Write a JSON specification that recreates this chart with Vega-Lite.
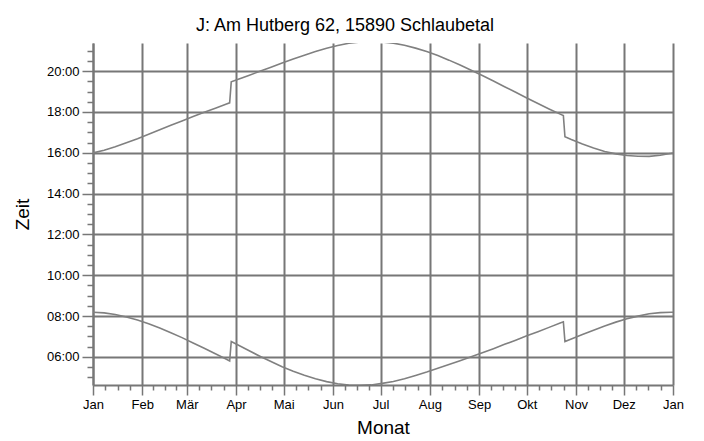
{
  "$schema": "https://vega.github.io/schema/vega-lite/v6.json",
  "width": 580,
  "height": 342,
  "autosize": "none",
  "padding": {"left": 93, "top": 43, "right": 31, "bottom": 56},
  "background": "white",
  "title": {"text": "J: Am Hutberg 62, 15890 Schlaubetal", "font": "Liberation Sans", "fontSize": 18, "fontWeight": "normal", "color": "black", "anchor": "middle", "baseline": "bottom", "dx": -38, "dy": 22, "offset": 12},
  "config": {"view": {"stroke": null}, "font": "Liberation Sans"},
  "data": {"values": [
    {"d": "2015-01-01", "s": "Aufgang", "t": 8.183}, {"d": "2015-01-08", "s": "Aufgang", "t": 8.154}, {"d": "2015-01-15", "s": "Aufgang", "t": 8.074}, {"d": "2015-01-22", "s": "Aufgang", "t": 7.957}, {"d": "2015-01-29", "s": "Aufgang", "t": 7.806},
    {"d": "2015-02-05", "s": "Aufgang", "t": 7.622}, {"d": "2015-02-12", "s": "Aufgang", "t": 7.413}, {"d": "2015-02-19", "s": "Aufgang", "t": 7.184}, {"d": "2015-02-26", "s": "Aufgang", "t": 6.942},
    {"d": "2015-03-05", "s": "Aufgang", "t": 6.682}, {"d": "2015-03-12", "s": "Aufgang", "t": 6.419}, {"d": "2015-03-19", "s": "Aufgang", "t": 6.153}, {"d": "2015-03-26", "s": "Aufgang", "t": 5.879}, {"d": "2015-03-28", "s": "Aufgang", "t": 5.80}, {"d": "2015-03-29", "s": "Aufgang", "t": 6.75},
    {"d": "2015-04-02", "s": "Aufgang", "t": 6.589}, {"d": "2015-04-09", "s": "Aufgang", "t": 6.307}, {"d": "2015-04-16", "s": "Aufgang", "t": 6.032}, {"d": "2015-04-23", "s": "Aufgang", "t": 5.771}, {"d": "2015-04-30", "s": "Aufgang", "t": 5.514},
    {"d": "2015-05-07", "s": "Aufgang", "t": 5.29}, {"d": "2015-05-14", "s": "Aufgang", "t": 5.096}, {"d": "2015-05-21", "s": "Aufgang", "t": 4.925}, {"d": "2015-05-28", "s": "Aufgang", "t": 4.786},
    {"d": "2015-06-04", "s": "Aufgang", "t": 4.681}, {"d": "2015-06-11", "s": "Aufgang", "t": 4.615}, {"d": "2015-06-18", "s": "Aufgang", "t": 4.601}, {"d": "2015-06-25", "s": "Aufgang", "t": 4.624},
    {"d": "2015-07-02", "s": "Aufgang", "t": 4.701}, {"d": "2015-07-09", "s": "Aufgang", "t": 4.795}, {"d": "2015-07-16", "s": "Aufgang", "t": 4.931}, {"d": "2015-07-23", "s": "Aufgang", "t": 5.09}, {"d": "2015-07-30", "s": "Aufgang", "t": 5.256},
    {"d": "2015-08-06", "s": "Aufgang", "t": 5.436}, {"d": "2015-08-13", "s": "Aufgang", "t": 5.621}, {"d": "2015-08-20", "s": "Aufgang", "t": 5.81}, {"d": "2015-08-27", "s": "Aufgang", "t": 6.003},
    {"d": "2015-09-03", "s": "Aufgang", "t": 6.20}, {"d": "2015-09-10", "s": "Aufgang", "t": 6.40}, {"d": "2015-09-17", "s": "Aufgang", "t": 6.613}, {"d": "2015-09-24", "s": "Aufgang", "t": 6.818},
    {"d": "2015-10-01", "s": "Aufgang", "t": 7.036}, {"d": "2015-10-08", "s": "Aufgang", "t": 7.235}, {"d": "2015-10-15", "s": "Aufgang", "t": 7.444}, {"d": "2015-10-22", "s": "Aufgang", "t": 7.656}, {"d": "2015-10-24", "s": "Aufgang", "t": 7.716}, {"d": "2015-10-25", "s": "Aufgang", "t": 6.751}, {"d": "2015-10-29", "s": "Aufgang", "t": 6.876},
    {"d": "2015-11-05", "s": "Aufgang", "t": 7.095}, {"d": "2015-11-12", "s": "Aufgang", "t": 7.307}, {"d": "2015-11-19", "s": "Aufgang", "t": 7.515}, {"d": "2015-11-26", "s": "Aufgang", "t": 7.701},
    {"d": "2015-12-03", "s": "Aufgang", "t": 7.867}, {"d": "2015-12-10", "s": "Aufgang", "t": 7.996}, {"d": "2015-12-17", "s": "Aufgang", "t": 8.11}, {"d": "2015-12-24", "s": "Aufgang", "t": 8.166}, {"d": "2015-12-31", "s": "Aufgang", "t": 8.187}, {"d": "2016-01-01", "s": "Aufgang", "t": 8.183},
    {"d": "2015-01-01", "s": "Untergang", "t": 15.993}, {"d": "2015-01-08", "s": "Untergang", "t": 16.126}, {"d": "2015-01-15", "s": "Untergang", "t": 16.296}, {"d": "2015-01-22", "s": "Untergang", "t": 16.487}, {"d": "2015-01-29", "s": "Untergang", "t": 16.691},
    {"d": "2015-02-05", "s": "Untergang", "t": 16.911}, {"d": "2015-02-12", "s": "Untergang", "t": 17.127}, {"d": "2015-02-19", "s": "Untergang", "t": 17.346}, {"d": "2015-02-26", "s": "Untergang", "t": 17.558},
    {"d": "2015-03-05", "s": "Untergang", "t": 17.775}, {"d": "2015-03-12", "s": "Untergang", "t": 17.981}, {"d": "2015-03-19", "s": "Untergang", "t": 18.18}, {"d": "2015-03-26", "s": "Untergang", "t": 18.387}, {"d": "2015-03-28", "s": "Untergang", "t": 18.446}, {"d": "2015-03-29", "s": "Untergang", "t": 19.477},
    {"d": "2015-04-02", "s": "Untergang", "t": 19.587}, {"d": "2015-04-09", "s": "Untergang", "t": 19.789}, {"d": "2015-04-16", "s": "Untergang", "t": 19.994}, {"d": "2015-04-23", "s": "Untergang", "t": 20.192}, {"d": "2015-04-30", "s": "Untergang", "t": 20.395},
    {"d": "2015-05-07", "s": "Untergang", "t": 20.595}, {"d": "2015-05-14", "s": "Untergang", "t": 20.782}, {"d": "2015-05-21", "s": "Untergang", "t": 20.963}, {"d": "2015-05-28", "s": "Untergang", "t": 21.125},
    {"d": "2015-06-04", "s": "Untergang", "t": 21.26}, {"d": "2015-06-11", "s": "Untergang", "t": 21.366}, {"d": "2015-06-18", "s": "Untergang", "t": 21.428}, {"d": "2015-06-25", "s": "Untergang", "t": 21.451},
    {"d": "2015-07-02", "s": "Untergang", "t": 21.428}, {"d": "2015-07-09", "s": "Untergang", "t": 21.374}, {"d": "2015-07-16", "s": "Untergang", "t": 21.27}, {"d": "2015-07-23", "s": "Untergang", "t": 21.129}, {"d": "2015-07-30", "s": "Untergang", "t": 20.962},
    {"d": "2015-08-06", "s": "Untergang", "t": 20.762}, {"d": "2015-08-13", "s": "Untergang", "t": 20.54}, {"d": "2015-08-20", "s": "Untergang", "t": 20.301}, {"d": "2015-08-27", "s": "Untergang", "t": 20.046},
    {"d": "2015-09-03", "s": "Untergang", "t": 19.784}, {"d": "2015-09-10", "s": "Untergang", "t": 19.514}, {"d": "2015-09-17", "s": "Untergang", "t": 19.237}, {"d": "2015-09-24", "s": "Untergang", "t": 18.963},
    {"d": "2015-10-01", "s": "Untergang", "t": 18.684}, {"d": "2015-10-08", "s": "Untergang", "t": 18.415}, {"d": "2015-10-15", "s": "Untergang", "t": 18.15}, {"d": "2015-10-22", "s": "Untergang", "t": 17.894}, {"d": "2015-10-24", "s": "Untergang", "t": 17.824}, {"d": "2015-10-25", "s": "Untergang", "t": 16.785}, {"d": "2015-10-29", "s": "Untergang", "t": 16.648},
    {"d": "2015-11-05", "s": "Untergang", "t": 16.425}, {"d": "2015-11-12", "s": "Untergang", "t": 16.233}, {"d": "2015-11-19", "s": "Untergang", "t": 16.065}, {"d": "2015-11-26", "s": "Untergang", "t": 15.945},
    {"d": "2015-12-03", "s": "Untergang", "t": 15.863}, {"d": "2015-12-10", "s": "Untergang", "t": 15.83}, {"d": "2015-12-17", "s": "Untergang", "t": 15.824}, {"d": "2015-12-24", "s": "Untergang", "t": 15.88}, {"d": "2015-12-31", "s": "Untergang", "t": 15.973}, {"d": "2016-01-01", "s": "Untergang", "t": 15.993}
  ]},
  "mark": {"type": "line", "color": "#808080", "strokeWidth": 1.6, "clip": true},
  "encoding": {
    "x": {
      "field": "d", "type": "temporal",
      "scale": {"type": "utc", "domain": [{"year": 2015, "month": 1, "date": 1, "utc": true}, {"year": 2016, "month": 1, "date": 1, "utc": true}]},
      "axis": {
        "title": "Monat", "titleFont": "Liberation Sans", "titleFontSize": 19, "titleFontWeight": "normal", "titleColor": "black", "titlePadding": 7,
        "values": [
          {"year": 2015, "month": 1, "date": 1, "utc": true}, {"year": 2015, "month": 1, "date": 8, "hours": 18, "utc": true}, {"year": 2015, "month": 1, "date": 16, "hours": 12, "utc": true}, {"year": 2015, "month": 1, "date": 24, "hours": 6, "utc": true},
          {"year": 2015, "month": 2, "date": 1, "utc": true}, {"year": 2015, "month": 2, "date": 8, "utc": true}, {"year": 2015, "month": 2, "date": 15, "utc": true}, {"year": 2015, "month": 2, "date": 22, "utc": true},
          {"year": 2015, "month": 3, "date": 1, "utc": true}, {"year": 2015, "month": 3, "date": 8, "hours": 18, "utc": true}, {"year": 2015, "month": 3, "date": 16, "hours": 12, "utc": true}, {"year": 2015, "month": 3, "date": 24, "hours": 6, "utc": true},
          {"year": 2015, "month": 4, "date": 1, "utc": true}, {"year": 2015, "month": 4, "date": 8, "hours": 12, "utc": true}, {"year": 2015, "month": 4, "date": 16, "utc": true}, {"year": 2015, "month": 4, "date": 23, "hours": 12, "utc": true},
          {"year": 2015, "month": 5, "date": 1, "utc": true}, {"year": 2015, "month": 5, "date": 8, "hours": 18, "utc": true}, {"year": 2015, "month": 5, "date": 16, "hours": 12, "utc": true}, {"year": 2015, "month": 5, "date": 24, "hours": 6, "utc": true},
          {"year": 2015, "month": 6, "date": 1, "utc": true}, {"year": 2015, "month": 6, "date": 8, "hours": 12, "utc": true}, {"year": 2015, "month": 6, "date": 16, "utc": true}, {"year": 2015, "month": 6, "date": 23, "hours": 12, "utc": true},
          {"year": 2015, "month": 7, "date": 1, "utc": true}, {"year": 2015, "month": 7, "date": 8, "hours": 18, "utc": true}, {"year": 2015, "month": 7, "date": 16, "hours": 12, "utc": true}, {"year": 2015, "month": 7, "date": 24, "hours": 6, "utc": true},
          {"year": 2015, "month": 8, "date": 1, "utc": true}, {"year": 2015, "month": 8, "date": 8, "hours": 18, "utc": true}, {"year": 2015, "month": 8, "date": 16, "hours": 12, "utc": true}, {"year": 2015, "month": 8, "date": 24, "hours": 6, "utc": true},
          {"year": 2015, "month": 9, "date": 1, "utc": true}, {"year": 2015, "month": 9, "date": 8, "hours": 12, "utc": true}, {"year": 2015, "month": 9, "date": 16, "utc": true}, {"year": 2015, "month": 9, "date": 23, "hours": 12, "utc": true},
          {"year": 2015, "month": 10, "date": 1, "utc": true}, {"year": 2015, "month": 10, "date": 8, "hours": 18, "utc": true}, {"year": 2015, "month": 10, "date": 16, "hours": 12, "utc": true}, {"year": 2015, "month": 10, "date": 24, "hours": 6, "utc": true},
          {"year": 2015, "month": 11, "date": 1, "utc": true}, {"year": 2015, "month": 11, "date": 8, "hours": 12, "utc": true}, {"year": 2015, "month": 11, "date": 16, "utc": true}, {"year": 2015, "month": 11, "date": 23, "hours": 12, "utc": true},
          {"year": 2015, "month": 12, "date": 1, "utc": true}, {"year": 2015, "month": 12, "date": 8, "hours": 18, "utc": true}, {"year": 2015, "month": 12, "date": 16, "hours": 12, "utc": true}, {"year": 2015, "month": 12, "date": 24, "hours": 6, "utc": true},
          {"year": 2016, "month": 1, "date": 1, "utc": true}
        ],
        "labelExpr": "utcdate(datum.value) == 1 ? ['Jan','Feb','Mär','Apr','Mai','Jun','Jul','Aug','Sep','Okt','Nov','Dez'][utcmonth(datum.value)] : ''",
        "labelFont": "Liberation Sans", "labelFontSize": 13, "labelColor": "black", "labelPadding": 3,
        "labelOverlap": false, "labelFlush": false, "labelBound": false,
        "tickSize": {"condition": {"test": "utcdate(datum.value) == 1", "value": 10}, "value": 5},
        "tickColor": "#777777", "tickWidth": 1.5,
        "grid": true, "gridColor": "#777777", "gridWidth": 2,
        "gridOpacity": {"condition": {"test": "utcdate(datum.value) == 1", "value": 1}, "value": 0},
        "domainColor": "#777777", "domainWidth": 2
      }
    },
    "y": {
      "field": "t", "type": "quantitative",
      "scale": {"domain": [4.62, 21.38], "nice": false, "zero": false},
      "axis": {
        "title": "Zeit", "titleFont": "Liberation Sans", "titleFontSize": 19, "titleFontWeight": "normal", "titleColor": "black", "titlePadding": 14,
        "values": [5, 5.5, 6, 6.5, 7, 7.5, 8, 8.5, 9, 9.5, 10, 10.5, 11, 11.5, 12, 12.5, 13, 13.5, 14, 14.5, 15, 15.5, 16, 16.5, 17, 17.5, 18, 18.5, 19, 19.5, 20, 20.5, 21],
        "labelExpr": "datum.value % 2 == 0 ? ((datum.value < 10 ? '0' : '') + datum.value + ':00') : ''",
        "labelFont": "Liberation Sans", "labelFontSize": 13, "labelColor": "black", "labelPadding": 3,
        "labelOverlap": false, "labelFlush": false, "labelBound": false,
        "tickSize": {"condition": {"test": "datum.value % 2 == 0", "value": 11}, "value": 6},
        "tickColor": "#777777", "tickWidth": 1.5,
        "grid": true, "gridColor": "#777777", "gridWidth": 2,
        "gridOpacity": {"condition": {"test": "datum.value % 2 == 0", "value": 1}, "value": 0},
        "domainColor": "#777777", "domainWidth": 2
      }
    },
    "detail": {"field": "s", "type": "nominal"}
  }
}
